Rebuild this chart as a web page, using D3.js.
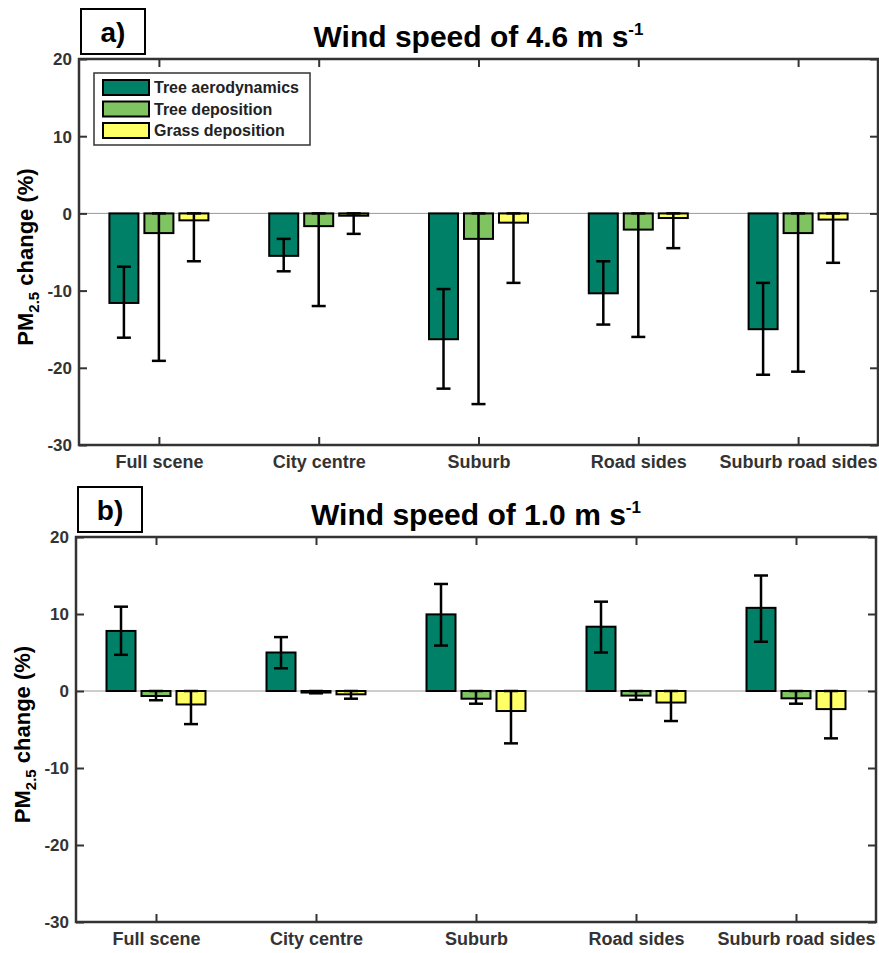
<!DOCTYPE html>
<html>
<head>
<meta charset="utf-8">
<script src="https://cdn.jsdelivr.net/npm/d3@7"></script>
<style>
  body { margin: 0; background: #fff; overflow: hidden; }
  svg text { font-family: "Liberation Sans", Arial, sans-serif; font-weight: bold; }
</style>
</head>
<body>
<div id="chart"></div>
<script>
// categories and series
var categories = ["Full scene", "City centre", "Suburb", "Road sides", "Suburb road sides"];
var seriesNames = ["Tree aerodynamics", "Tree deposition", "Grass deposition"];
var seriesColors = ["#008066", "#80c462", "#ffff66"];
var yTicks = [-30, -20, -10, 0, 10, 20];

// panel a) wind 4.6 m/s
var aeroA = [-11.6, -5.5, -16.3, -10.35, -15.0];
var aeroA_lo = [-16.1, -7.5, -22.7, -14.4, -20.9];
var aeroA_hi = [-6.9, -3.3, -9.8, -6.2, -9.0];
var treeA = [-2.55, -1.65, -3.3, -2.1, -2.55];
var treeA_lo = [-19.1, -12.0, -24.7, -16.0, -20.5];
var treeA_hi = [0, 0, 0, 0, 0];
var grassA = [-0.9, -0.3, -1.2, -0.6, -0.8];
var grassA_lo = [-6.2, -2.65, -9.0, -4.5, -6.4];
var grassA_hi = [0, 0, 0, 0, 0];

// panel b) wind 1.0 m/s
var aeroB = [7.8, 5.0, 9.95, 8.35, 10.8];
var aeroB_lo = [4.7, 2.95, 5.9, 5.0, 6.4];
var aeroB_hi = [10.95, 7.0, 13.9, 11.6, 15.0];
var treeB = [-0.65, -0.2, -1.0, -0.6, -0.95];
var treeB_lo = [-1.2, -0.3, -1.65, -1.15, -1.65];
var treeB_hi = [0, 0, 0, 0, 0];
var grassB = [-1.75, -0.43, -2.6, -1.5, -2.35];
var grassB_lo = [-4.3, -1.0, -6.8, -3.9, -6.15];
var grassB_hi = [0, 0, 0, 0, 0];

var width = 879, height = 953;

var svg = d3.select("#chart").append("svg")
    .attr("width", width)
    .attr("height", height)
    .style("display", "block");

function drawPanel(p) {
    var g = svg.append("g");

    var yScale = d3.scaleLinear().domain([-30, 20]).range([p.bottom, p.top]);
    var xCenter = d3.scalePoint().domain(categories).range([p.left, p.right]).padding(0.5);
    var xInner = d3.scaleBand().domain(seriesNames).range([-49.5, 49.5]).paddingInner(0.171);

    // zero line
    g.append("line")
        .attr("x1", p.left).attr("x2", p.right)
        .attr("y1", yScale(0)).attr("y2", yScale(0))
        .attr("stroke", "#9a9a9a").attr("stroke-width", 1);

    var rows = [];
    p.series.forEach(function (s, si) {
        categories.forEach(function (c, ci) {
            rows.push({cat: c, name: seriesNames[si], color: seriesColors[si],
                v: s.v[ci], lo: s.lo[ci], hi: s.hi[ci]});
        });
    });

    // bars
    g.selectAll(".bar").data(rows).enter()
        .append("rect")
        .attr("class", "bar")
        .attr("x", d => xCenter(d.cat) + xInner(d.name))
        .attr("width", xInner.bandwidth())
        .attr("y", d => yScale(Math.max(0, d.v)))
        .attr("height", d => Math.abs(yScale(d.v) - yScale(0)))
        .attr("fill", d => d.color)
        .attr("stroke", "#000")
        .attr("stroke-width", 2);

    // error bars
    var cap = 7;
    var err = g.selectAll(".err").data(rows).enter()
        .append("g").attr("class", "err")
        .attr("stroke", "#000").attr("stroke-width", 2.5);
    var cx = d => xCenter(d.cat) + xInner(d.name) + xInner.bandwidth() / 2;
    err.append("line")
        .attr("x1", cx).attr("x2", cx)
        .attr("y1", d => yScale(d.lo)).attr("y2", d => yScale(d.hi));
    err.append("line")
        .attr("x1", d => cx(d) - cap).attr("x2", d => cx(d) + cap)
        .attr("y1", d => yScale(d.lo)).attr("y2", d => yScale(d.lo));
    err.append("line")
        .attr("x1", d => cx(d) - cap).attr("x2", d => cx(d) + cap)
        .attr("y1", d => yScale(d.hi)).attr("y2", d => yScale(d.hi));

    // axes (inward ticks, box)
    var axisColor = "#333";
    var left = g.append("g").attr("transform", `translate(${p.left},0)`)
        .call(d3.axisLeft(yScale).tickValues(yTicks).tickSize(-8).tickPadding(7)
            .tickFormat(d => String(d)));
    var right = g.append("g").attr("transform", `translate(${p.right},0)`)
        .call(d3.axisRight(yScale).tickValues(yTicks).tickSize(-8).tickFormat(""));
    var bottom = g.append("g").attr("transform", `translate(0,${p.bottom})`)
        .call(d3.axisBottom(xCenter).tickSize(-8).tickPadding(10));
    var top = g.append("g").attr("transform", `translate(0,${p.top})`)
        .call(d3.axisTop(xCenter).tickSize(-8).tickFormat(""));

    [left, right, bottom, top].forEach(function (a) {
        a.select(".domain").remove();
        a.selectAll(".tick line").attr("stroke", axisColor).attr("stroke-width", 2);
        a.selectAll("text").attr("fill", "#333")
            .style("font-family", "Liberation Sans, Arial, sans-serif").style("font-weight", "bold");
    });
    left.selectAll("text").attr("dy", "0.35em").style("font-size", "17px");
    bottom.selectAll("text").style("font-size", "18px");

    g.append("rect")
        .attr("x", p.left).attr("y", p.top)
        .attr("width", p.right - p.left).attr("height", p.bottom - p.top)
        .attr("fill", "none").attr("stroke", axisColor).attr("stroke-width", 2.5);

    // y label
    var yl = g.append("text")
        .attr("transform", `translate(${p.left - 46},${(p.top + p.bottom) / 2 + 5}) rotate(-90)`)
        .attr("text-anchor", "middle")
        .style("font-size", "22px")
        .attr("fill", "#000");
    yl.append("tspan").text("PM");
    yl.append("tspan").attr("dy", 6).style("font-size", "15px").text("2.5");
    yl.append("tspan").attr("dy", -6).text(" change (%)");

    // panel label box
    g.append("rect")
        .attr("x", p.left + 2).attr("y", p.top - 50)
        .attr("width", 64).attr("height", 45)
        .attr("fill", "#fff").attr("stroke", "#000").attr("stroke-width", 2);
    g.append("text")
        .attr("x", p.left + 34).attr("y", p.top - 17)
        .attr("text-anchor", "middle")
        .style("font-size", "28px")
        .text(p.label);

    // title
    var t = g.append("text")
        .attr("x", (p.left + p.right) / 2).attr("y", p.top - 12)
        .attr("text-anchor", "middle")
        .style("font-size", "30px")
        .attr("fill", "#000");
    t.append("tspan").text(p.title);
    t.append("tspan").attr("dy", -12).style("font-size", "17px").text("-1");

    if (p.legend) {
        var lg = g.append("g").attr("transform", `translate(${p.left + 15},${p.top + 14})`);
        lg.append("rect")
            .attr("width", 216).attr("height", 72)
            .attr("fill", "#fff").attr("stroke", "#333").attr("stroke-width", 1.5);
        var item = lg.selectAll(".li").data(seriesNames).enter()
            .append("g").attr("class", "li")
            .attr("transform", (d, i) => `translate(9,${7 + i * 21.5})`);
        item.append("rect")
            .attr("width", 46).attr("height", 15)
            .attr("fill", (d, i) => seriesColors[i])
            .attr("stroke", "#000").attr("stroke-width", 2);
        item.append("text")
            .attr("x", 51).attr("y", 13)
            .style("font-size", "16px")
            .attr("fill", "#222")
            .text(d => d);
    }
}

drawPanel({
    label: "a)", title: "Wind speed of 4.6 m s", legend: true,
    left: 79, right: 878, top: 59, bottom: 445,
    series: [
        {v: aeroA, lo: aeroA_lo, hi: aeroA_hi},
        {v: treeA, lo: treeA_lo, hi: treeA_hi},
        {v: grassA, lo: grassA_lo, hi: grassA_hi}
    ]
});

drawPanel({
    label: "b)", title: "Wind speed of 1.0 m s", legend: false,
    left: 76, right: 876, top: 537, bottom: 922,
    series: [
        {v: aeroB, lo: aeroB_lo, hi: aeroB_hi},
        {v: treeB, lo: treeB_lo, hi: treeB_hi},
        {v: grassB, lo: grassB_lo, hi: grassB_hi}
    ]
});
</script>
</body>
</html>
